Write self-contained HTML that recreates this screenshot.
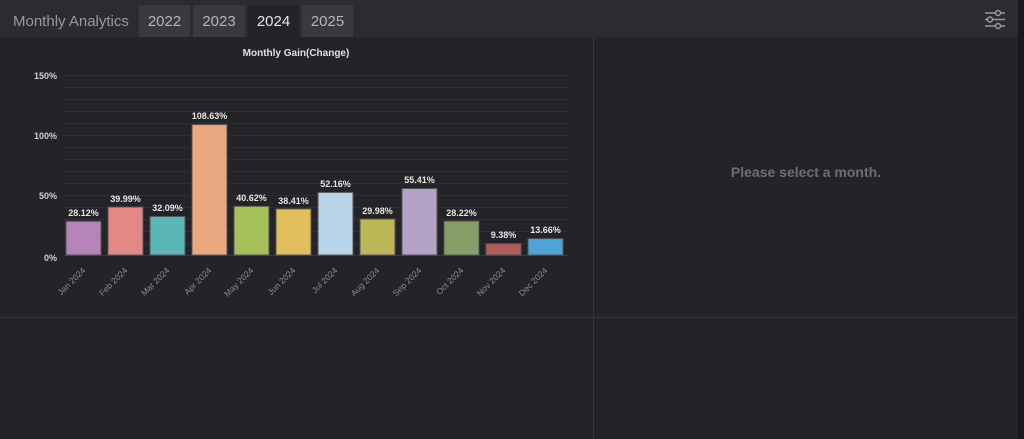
<!DOCTYPE html>
<html><head><meta charset="utf-8"><style>
html,body{margin:0;padding:0;width:1024px;height:439px;overflow:hidden;background:#242328;font-family:"Liberation Sans",Arial,sans-serif}
svg{display:block}
</style></head><body>
<svg width="1024" height="439" xmlns="http://www.w3.org/2000/svg" font-family="Liberation Sans, Arial, sans-serif">
<rect x="0" y="0" width="1024" height="439" fill="#242328"/>
<rect x="0" y="0" width="1018" height="37" fill="#2c2b30"/>
<rect x="1018" y="0" width="6" height="439" fill="#19181c"/>
<text x="13" y="26" font-size="15" fill="#9a9a9e">Monthly Analytics</text>
<rect x="139" y="5" width="51" height="32" fill="#3a393e"/>
<rect x="193" y="5" width="52" height="32" fill="#3a393e"/>
<rect x="248" y="5" width="51" height="32" fill="#242328"/>
<rect x="302" y="5" width="51" height="32" fill="#3a393e"/>
<g font-size="15" text-anchor="middle">
<text x="164.5" y="26" fill="#b5b5b8">2022</text>
<text x="219" y="26" fill="#b5b5b8">2023</text>
<text x="273.5" y="26" fill="#e6e6e8">2024</text>
<text x="327.5" y="26" fill="#b5b5b8">2025</text>
</g>
<g stroke="#9a9a9e" stroke-width="1.5" fill="#2c2b30">
<line x1="985" y1="13" x2="1005" y2="13"/><line x1="985" y1="19.5" x2="1005" y2="19.5"/><line x1="985" y1="26" x2="1005" y2="26"/>
<circle cx="998" cy="13" r="2.5"/><circle cx="990" cy="19.5" r="2.5"/><circle cx="998" cy="26" r="2.5"/>
</g>
<line x1="593.5" y1="37" x2="593.5" y2="439" stroke="#36353a"/>
<line x1="0" y1="317.5" x2="1018" y2="317.5" stroke="#36353a"/>
<text x="296" y="56" font-size="10" font-weight="bold" fill="#e0e0e0" text-anchor="middle">Monthly Gain(Change)</text>
<g stroke="#2f2e33" stroke-width="1">
<line x1="63" y1="75.5" x2="568" y2="75.5"/><line x1="63" y1="87.5" x2="568" y2="87.5"/><line x1="63" y1="99.5" x2="568" y2="99.5"/>
<line x1="63" y1="111.5" x2="568" y2="111.5"/><line x1="63" y1="123.5" x2="568" y2="123.5"/><line x1="63" y1="135.5" x2="568" y2="135.5"/>
<line x1="63" y1="147.5" x2="568" y2="147.5"/><line x1="63" y1="159.5" x2="568" y2="159.5"/><line x1="63" y1="171.5" x2="568" y2="171.5"/>
<line x1="63" y1="183.5" x2="568" y2="183.5"/><line x1="63" y1="195.5" x2="568" y2="195.5"/><line x1="63" y1="207.5" x2="568" y2="207.5"/>
<line x1="63" y1="219.5" x2="568" y2="219.5"/><line x1="63" y1="231.5" x2="568" y2="231.5"/><line x1="63" y1="243.5" x2="568" y2="243.5"/>
<line x1="63" y1="255.5" x2="568" y2="255.5" stroke="#38373c"/>
</g>
<g font-size="9" font-weight="bold" fill="#d0d0d0" text-anchor="end">
<text x="57" y="79">150%</text><text x="57" y="139">100%</text><text x="57" y="199">50%</text><text x="57" y="261">0%</text>
</g>
<g stroke="#555" stroke-width="1">
<rect x="66" y="221.3" width="35" height="33.7" fill="#b584b8"/>
<rect x="108" y="207" width="35" height="48" fill="#e48886"/>
<rect x="150" y="216.5" width="35" height="38.5" fill="#5bb6b6"/>
<rect x="192" y="124.6" width="35" height="130.4" fill="#eaa880"/>
<rect x="234" y="206.3" width="35" height="48.7" fill="#a7c15a"/>
<rect x="276" y="208.9" width="35" height="46.1" fill="#e2be5e"/>
<rect x="318" y="192.4" width="35" height="62.6" fill="#b9d3e8"/>
<rect x="360" y="219" width="35" height="36" fill="#bcb858"/>
<rect x="402" y="188.5" width="35" height="66.5" fill="#b3a2c6"/>
<rect x="444" y="221.1" width="35" height="33.9" fill="#879e68"/>
<rect x="486" y="243.7" width="35" height="11.3" fill="#b25c5e"/>
<rect x="528" y="238.6" width="35" height="16.4" fill="#4ea4d6"/>
</g>
<g font-size="9" font-weight="bold" fill="#e6e6e6" text-anchor="middle">
<text x="83.5" y="216">28.12%</text><text x="125.5" y="202">39.99%</text><text x="167.5" y="211">32.09%</text>
<text x="209.5" y="119">108.63%</text><text x="251.5" y="201">40.62%</text><text x="293.5" y="204">38.41%</text>
<text x="335.5" y="187">52.16%</text><text x="377.5" y="214">29.98%</text><text x="419.5" y="183">55.41%</text>
<text x="461.5" y="216">28.22%</text><text x="503.5" y="238">9.38%</text><text x="545.5" y="233">13.66%</text>
</g>
<g font-size="8.5" fill="#8a8a8e" text-anchor="end">
<text transform="translate(86,271) rotate(-45)">Jan 2024</text>
<text transform="translate(128,271) rotate(-45)">Feb 2024</text>
<text transform="translate(170,271) rotate(-45)">Mar 2024</text>
<text transform="translate(212,271) rotate(-45)">Apr 2024</text>
<text transform="translate(254,271) rotate(-45)">May 2024</text>
<text transform="translate(296,271) rotate(-45)">Jun 2024</text>
<text transform="translate(338,271) rotate(-45)">Jul 2024</text>
<text transform="translate(380,271) rotate(-45)">Aug 2024</text>
<text transform="translate(422,271) rotate(-45)">Sep 2024</text>
<text transform="translate(464,271) rotate(-45)">Oct 2024</text>
<text transform="translate(506,271) rotate(-45)">Nov 2024</text>
<text transform="translate(548,271) rotate(-45)">Dec 2024</text>
</g>
<text x="806" y="177" font-size="14" font-weight="bold" fill="#6e6e72" text-anchor="middle">Please select a month.</text>
</svg>
</body></html>
